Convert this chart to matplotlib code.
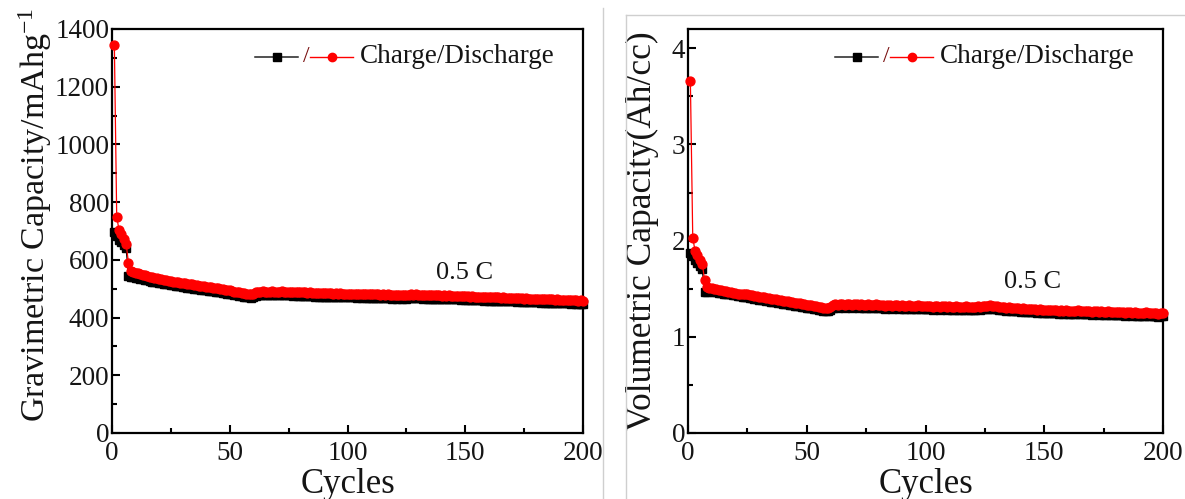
import matplotlib
matplotlib.use("Agg")
import matplotlib.pyplot as plt
from matplotlib.lines import Line2D
from matplotlib.ticker import MultipleLocator

plt.rcParams["font.family"] = ["Liberation Serif", "DejaVu Serif"]
plt.rcParams["mathtext.fontset"] = "custom"
plt.rcParams["mathtext.rm"] = "Liberation Serif"
plt.rcParams["mathtext.it"] = "Liberation Serif:italic"

# ---- data -------------------------------------------------------------
cycles = list(range(1, 201))

grav_discharge = [
    1345, 750, 702, 690, 672, 655, 590, 562,
    558, 556, 553, 551, 549, 546, 545, 542, 540, 538, 536, 535,
    533, 531, 530, 528, 527, 525, 524, 523, 521, 520,
    519, 517, 516, 515, 513, 512, 511, 510, 508, 507,
    506, 505, 504, 502, 501, 500, 498, 497, 495, 494,
    492, 490, 489, 487, 485, 484, 482, 481, 480, 482,
    488, 490, 489, 491, 490, 489, 490, 491, 490, 489,
    490, 491, 490, 489, 490, 489, 488, 489, 488, 487,
    488, 487, 486, 487, 486, 485, 486, 485, 484, 485,
    484, 485, 484, 483, 484, 483, 484, 483, 482, 483,
    482, 483, 482, 481, 482, 481, 482, 481, 480, 481,
    480, 481, 480, 479, 480, 479, 480, 479, 478, 479,
    478, 479, 478, 479, 478, 479, 480, 479, 480, 479,
    479, 478, 479, 478, 477, 478, 477, 478, 477, 476,
    477, 476, 477, 476, 475, 476, 475, 474, 475, 474,
    474, 473, 474, 473, 472, 473, 472, 471, 472, 471,
    471, 470, 471, 470, 469, 470, 469, 468, 469, 468,
    468, 467, 468, 467, 466, 467, 466, 465, 466, 465,
    465, 464, 465, 464, 463, 464, 463, 462, 463, 462,
    462, 461, 462, 461, 460, 461, 460, 459, 460, 459,
]

grav_charge = [
    695, 682, 670, 662, 652, 640, 545, 542,
    540, 538, 536, 534, 532, 530, 529, 527, 525, 524, 522, 521,
    519, 518, 516, 515, 513, 512, 511, 509, 508, 507,
    505, 504, 503, 502, 500, 499, 498, 497, 495, 494,
    493, 492, 491, 489, 488, 487, 485, 484, 483, 481,
    480, 478, 477, 475, 474, 472, 471, 470, 469, 471,
    476, 478, 477, 479, 478, 477, 478, 479, 478, 477,
    478, 479, 478, 477, 478, 477, 476, 477, 476, 475,
    476, 475, 474, 475, 474, 473, 474, 473, 472, 473,
    472, 473, 472, 471, 472, 471, 472, 471, 470, 471,
    470, 471, 470, 469, 470, 469, 470, 469, 468, 469,
    468, 469, 468, 467, 468, 467, 468, 467, 466, 467,
    466, 467, 466, 467, 466, 467, 468, 467, 468, 467,
    467, 466, 467, 466, 465, 466, 465, 466, 465, 464,
    465, 464, 465, 464, 463, 464, 463, 462, 463, 462,
    462, 461, 462, 461, 460, 461, 460, 459, 460, 459,
    459, 458, 459, 458, 457, 458, 457, 456, 457, 456,
    456, 455, 456, 455, 454, 455, 454, 453, 454, 453,
    453, 452, 453, 452, 451, 452, 451, 450, 451, 450,
    450, 449, 450, 449, 448, 449, 448, 447, 448, 447,
]

vol_discharge = [
    3.66, 2.03, 1.89, 1.85, 1.80, 1.76, 1.59, 1.52,
    1.51, 1.51, 1.50, 1.50, 1.49, 1.49, 1.48, 1.48, 1.47, 1.47, 1.46, 1.46,
    1.45, 1.45, 1.44, 1.44, 1.44, 1.43, 1.43, 1.42, 1.42, 1.41,
    1.41, 1.41, 1.40, 1.40, 1.39, 1.39, 1.39, 1.38, 1.38, 1.37,
    1.37, 1.37, 1.36, 1.36, 1.35, 1.35, 1.35, 1.34, 1.34, 1.33,
    1.33, 1.33, 1.32, 1.32, 1.31, 1.31, 1.30, 1.30, 1.30, 1.31,
    1.33, 1.34, 1.33, 1.34, 1.34, 1.33, 1.34, 1.34, 1.33, 1.34,
    1.34, 1.33, 1.34, 1.33, 1.33, 1.34, 1.33, 1.33, 1.34, 1.33,
    1.33, 1.33, 1.32, 1.33, 1.33, 1.32, 1.33, 1.33, 1.32, 1.33,
    1.32, 1.32, 1.33, 1.32, 1.32, 1.32, 1.33, 1.32, 1.32, 1.32,
    1.32, 1.32, 1.31, 1.32, 1.32, 1.31, 1.32, 1.32, 1.31, 1.32,
    1.31, 1.31, 1.32, 1.31, 1.31, 1.31, 1.32, 1.31, 1.31, 1.31,
    1.31, 1.32, 1.31, 1.32, 1.32, 1.32, 1.33, 1.32, 1.32, 1.32,
    1.31, 1.31, 1.31, 1.30, 1.31, 1.30, 1.30, 1.30, 1.30, 1.29,
    1.30, 1.29, 1.29, 1.29, 1.29, 1.29, 1.28, 1.29, 1.28, 1.28,
    1.28, 1.28, 1.28, 1.28, 1.28, 1.27, 1.28, 1.27, 1.28, 1.27,
    1.27, 1.27, 1.27, 1.28, 1.27, 1.27, 1.27, 1.27, 1.27, 1.26,
    1.27, 1.27, 1.26, 1.27, 1.26, 1.26, 1.27, 1.26, 1.26, 1.26,
    1.26, 1.26, 1.26, 1.25, 1.26, 1.26, 1.25, 1.26, 1.25, 1.25,
    1.25, 1.25, 1.26, 1.25, 1.25, 1.25, 1.25, 1.24, 1.25, 1.25,
]

vol_charge = [
    1.87, 1.84, 1.80, 1.77, 1.74, 1.70, 1.47, 1.47,
    1.48, 1.48, 1.47, 1.47, 1.46, 1.46, 1.45, 1.45, 1.44, 1.44, 1.43, 1.43,
    1.42, 1.42, 1.41, 1.41, 1.41, 1.40, 1.40, 1.39, 1.39, 1.38,
    1.38, 1.38, 1.37, 1.37, 1.36, 1.36, 1.36, 1.35, 1.35, 1.34,
    1.34, 1.34, 1.33, 1.33, 1.32, 1.32, 1.32, 1.31, 1.31, 1.30,
    1.30, 1.30, 1.29, 1.29, 1.28, 1.28, 1.27, 1.27, 1.27, 1.28,
    1.30, 1.31, 1.30, 1.31, 1.31, 1.30, 1.31, 1.31, 1.30, 1.31,
    1.31, 1.30, 1.31, 1.30, 1.30, 1.31, 1.30, 1.30, 1.31, 1.30,
    1.30, 1.30, 1.29, 1.30, 1.30, 1.29, 1.30, 1.30, 1.29, 1.30,
    1.29, 1.29, 1.30, 1.29, 1.29, 1.29, 1.30, 1.29, 1.29, 1.29,
    1.29, 1.29, 1.28, 1.29, 1.29, 1.28, 1.29, 1.29, 1.28, 1.29,
    1.28, 1.28, 1.29, 1.28, 1.28, 1.28, 1.29, 1.28, 1.28, 1.28,
    1.28, 1.29, 1.28, 1.29, 1.29, 1.29, 1.30, 1.29, 1.29, 1.29,
    1.28, 1.28, 1.28, 1.27, 1.28, 1.27, 1.27, 1.27, 1.27, 1.26,
    1.27, 1.26, 1.26, 1.26, 1.26, 1.26, 1.25, 1.26, 1.25, 1.25,
    1.25, 1.25, 1.25, 1.25, 1.25, 1.24, 1.25, 1.24, 1.25, 1.24,
    1.24, 1.24, 1.24, 1.25, 1.24, 1.24, 1.24, 1.24, 1.24, 1.23,
    1.24, 1.24, 1.23, 1.24, 1.23, 1.23, 1.24, 1.23, 1.23, 1.23,
    1.23, 1.23, 1.23, 1.22, 1.23, 1.23, 1.22, 1.23, 1.22, 1.22,
    1.22, 1.22, 1.23, 1.22, 1.22, 1.22, 1.22, 1.21, 1.22, 1.22,
]

rate_label = "0.5 C"
legend_text = "Charge/Discharge"

# ---- figure -----------------------------------------------------------
W, H = 1185, 499
fig = plt.figure(figsize=(W / 100, H / 100), dpi=100)
fig.patch.set_facecolor("white")


def px_axes(x0, x1, ytop, ybot):
    return fig.add_axes([x0 / W, 1 - ybot / H, (x1 - x0) / W, (ybot - ytop) / H])


ax1 = px_axes(112, 583, 29, 433)
ax2 = px_axes(688, 1163, 29, 433)

TXT = "#151515"
SERIF = "Liberation Serif"


def style(ax, ymax, ymajor, yminor):
    ax.set_xlim(0, 200)
    ax.set_ylim(0, ymax)
    ax.xaxis.set_major_locator(MultipleLocator(50))
    ax.xaxis.set_minor_locator(MultipleLocator(25))
    ax.yaxis.set_major_locator(MultipleLocator(ymajor))
    ax.yaxis.set_minor_locator(MultipleLocator(yminor))
    ax.tick_params(which="both", direction="in", top=False, right=False,
                   width=1.5, colors="black", labelcolor=TXT, labelsize=19.5)
    ax.tick_params(which="major", length=5.5)
    ax.tick_params(which="minor", length=3.5)
    ax.tick_params(axis="x", pad=6)
    ax.tick_params(axis="y", pad=2)
    for lab in ax.get_xticklabels() + ax.get_yticklabels():
        lab.set_fontfamily(SERIF)
    for s in ax.spines.values():
        s.set_linewidth(1.6)
        s.set_color("black")
    ax.set_xlabel("Cycles", fontsize=25, color=TXT, labelpad=1, family=SERIF)


def draw_series(ax, charge, discharge):
    ax.plot(cycles, charge, color="black", lw=0.9, marker="s", ms=5.4,
            mec="black", mfc="black", zorder=3, clip_on=False)
    ax.plot(cycles, discharge, color="red", lw=0.9, marker="o", ms=6.4,
            mec="red", mfc="red", zorder=4, clip_on=False)


def draw_key(ax, xs):
    bx0, bx1, bm, slash, rx0, rx1, rm, tx = xs
    y = 0.931
    tr = ax.transAxes
    ax.add_line(Line2D([bx0, bx1], [y, y], transform=tr, color="#222222", lw=1.1))
    ax.add_line(Line2D([bm], [y], transform=tr, color="black", marker="s",
                       ms=5.5, ls="none"))
    ax.text(slash, y, "/", transform=tr, color="#7a1010", fontsize=17,
            ha="center", va="center", family=SERIF)
    ax.add_line(Line2D([rx0, rx1], [y, y], transform=tr, color="red", lw=1.0))
    ax.add_line(Line2D([rm], [y], transform=tr, color="red", marker="o",
                       ms=6, ls="none"))
    ax.text(tx, y, legend_text, transform=tr, color=TXT, fontsize=19.5,
            ha="left", va="center", family=SERIF)


style(ax1, 1400, 200, 100)
draw_series(ax1, grav_charge, grav_discharge)
ax1.set_ylabel("Gravimetric Capacity/mAhg$^{-1}$", fontsize=24.5, color=TXT)
ax1.yaxis.set_label_coords(-0.124, 0.54)
draw_key(ax1, [0.3036, 0.3949, 0.3497, 0.413, 0.420, 0.512, 0.4665, 0.5265])
ax1.text(149.5, 554, rate_label, fontsize=19, color=TXT, ha="center",
         va="center", family=SERIF)

style(ax2, 4.2, 1, 0.5)
draw_series(ax2, vol_charge, vol_discharge)
ax2.set_ylabel("Volumetric Capacity(Ah/cc)", fontsize=25.5, color=TXT,
               family=SERIF)
ax2.yaxis.set_label_coords(-0.061, 0.5)
draw_key(ax2, [0.309, 0.400, 0.355, 0.418, 0.425, 0.516, 0.471, 0.5305])
ax2.text(145, 1.57, rate_label, fontsize=19, color=TXT, ha="center",
         va="center", family=SERIF)

# thin grey panel borders
grey = "#cfcfcf"
fig.add_artist(Line2D([603 / W, 603 / W], [0, 1 - 8 / H], transform=fig.transFigure,
                      color=grey, lw=1.0))
fig.add_artist(Line2D([626 / W, 626 / W], [0, 1 - 15 / H], transform=fig.transFigure,
                      color=grey, lw=1.0))
fig.add_artist(Line2D([626 / W, 1], [1 - 15 / H, 1 - 15 / H], transform=fig.transFigure,
                      color=grey, lw=1.0))

fig.savefig("out.png", dpi=100, facecolor="white")
